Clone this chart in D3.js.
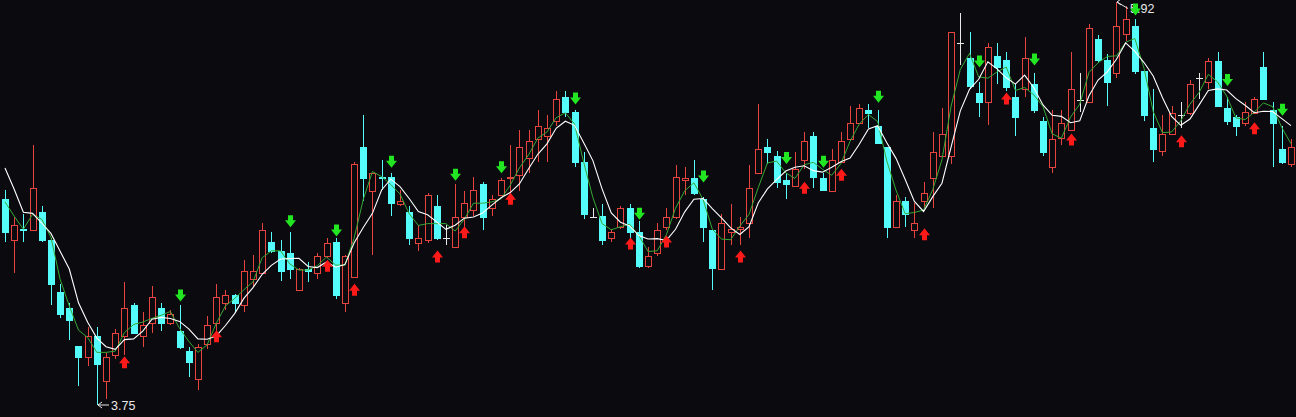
<!DOCTYPE html>
<html>
<head>
<meta charset="utf-8">
<script src="https://cdn.jsdelivr.net/npm/d3@7/dist/d3.min.js"></script>
<style>
  html, body { margin: 0; padding: 0; background: #0b0a0f; overflow: hidden; }
  svg { display: block; }
</style>
</head>
<body>
<svg id="chart" width="1296" height="417"></svg>
<script>
// ---- data ----
const open = [
4.86,4.64,4.70,4.69,4.79,4.64,4.36,4.27,4.07,4.01,
4.12,3.88,4.02,4.12,4.29,4.12,4.19,4.27,4.19,4.15,
4.04,3.89,4.08,4.19,4.30,4.34,4.29,4.43,4.46,4.63,
4.58,4.57,4.37,4.48,4.46,4.55,4.63,4.30,4.44,5.14,
4.90,4.98,4.98,4.83,4.79,4.62,4.64,4.82,4.65,4.60,
4.76,4.80,4.94,4.81,4.88,4.97,4.99,5.08,5.18,5.20,
5.28,5.41,5.33,5.06,4.76,4.77,4.65,4.71,4.81,4.68,
4.50,4.57,4.71,4.76,4.96,4.97,4.86,4.69,4.48,4.68,
4.70,4.73,5.00,5.14,5.09,4.96,4.93,5.07,5.20,4.97,
4.90,5.06,5.18,5.27,5.34,5.25,5.14,4.71,4.85,4.69,
4.85,4.97,5.09,5.09,5.70,5.62,5.43,5.38,5.63,5.61,
5.41,5.45,5.48,5.28,5.03,5.19,5.23,5.39,5.38,5.72,
5.61,5.54,5.75,5.79,5.55,5.24,5.12,5.21,5.31,5.32,
5.51,5.49,5.60,5.35,5.30,5.27,5.32,5.57,5.34,5.13,
5.05];
const high = [
4.91,4.76,4.78,5.15,4.82,4.65,4.40,4.30,4.07,4.17,
4.17,4.03,4.16,4.41,4.30,4.25,4.39,4.30,4.26,4.29,
4.06,4.08,4.23,4.40,4.37,4.35,4.53,4.56,4.73,4.68,
4.64,4.68,4.49,4.52,4.57,4.65,4.65,4.56,5.06,5.31,
5.00,5.07,5.00,4.91,4.82,4.72,4.89,4.88,4.72,4.94,
4.90,4.98,4.95,4.88,4.97,5.15,5.23,5.23,5.34,5.31,
5.44,5.44,5.34,5.11,4.81,4.83,4.70,4.82,4.83,4.74,
4.60,4.73,4.81,5.04,5.03,5.07,4.87,4.69,4.78,4.83,
4.76,5.04,5.37,5.18,5.12,5.00,5.11,5.22,5.22,5.00,
5.13,5.22,5.36,5.37,5.37,5.34,5.14,4.88,4.87,4.84,
4.95,5.22,5.35,5.76,5.86,5.76,5.49,5.70,5.70,5.65,
5.48,5.73,5.54,5.30,5.34,5.34,5.65,5.54,5.80,5.74,
5.64,5.92,5.90,5.83,5.55,5.45,5.31,5.36,5.38,5.50,
5.54,5.62,5.65,5.41,5.31,5.38,5.41,5.65,5.38,5.25,
5.18];
const low = [
4.63,4.46,4.63,4.69,4.63,4.29,4.22,4.10,3.85,3.96,
3.75,3.78,4.00,4.02,4.13,4.06,4.14,4.15,4.18,4.05,
3.90,3.83,4.05,4.14,4.26,4.25,4.25,4.39,4.46,4.57,
4.42,4.43,4.37,4.41,4.43,4.54,4.32,4.25,4.44,4.85,
4.56,4.91,4.77,4.82,4.61,4.58,4.62,4.64,4.61,4.60,
4.71,4.77,4.69,4.77,4.88,4.86,4.90,5.00,5.06,5.06,
5.25,5.30,5.03,4.75,4.76,4.61,4.63,4.70,4.65,4.49,
4.49,4.55,4.69,4.75,4.88,4.88,4.63,4.37,4.48,4.61,
4.61,4.65,5.00,5.05,4.92,4.86,4.93,5.02,4.92,4.90,
4.90,5.06,5.18,5.27,5.24,5.16,4.65,4.71,4.71,4.65,
4.81,4.81,5.09,5.05,5.58,5.45,5.30,5.26,5.48,5.44,
5.20,5.41,5.32,5.09,5.00,5.15,5.23,5.33,5.38,5.59,
5.36,5.51,5.71,5.53,5.28,5.06,5.09,5.21,5.24,5.31,
5.40,5.45,5.36,5.26,5.20,5.25,5.32,5.40,5.03,5.05,
5.03];
const close = [
4.68,4.72,4.69,4.92,4.64,4.40,4.24,4.21,4.01,4.12,
3.97,4.01,4.14,4.27,4.14,4.18,4.33,4.19,4.24,4.06,
3.98,4.06,4.18,4.33,4.34,4.30,4.47,4.47,4.69,4.58,
4.47,4.48,4.48,4.47,4.55,4.62,4.34,4.55,5.05,4.97,
5.00,4.97,4.84,4.85,4.65,4.65,4.88,4.65,4.65,4.76,
4.84,4.91,4.76,4.86,4.96,4.98,5.14,5.17,5.25,5.24,
5.40,5.33,5.06,4.78,4.76,4.64,4.68,4.81,4.68,4.50,
4.55,4.69,4.76,4.98,4.97,4.89,4.71,4.49,4.73,4.70,
4.71,4.92,5.13,5.11,4.95,4.94,5.02,5.17,4.98,4.91,
5.07,5.17,5.27,5.35,5.32,5.16,4.71,4.85,4.78,4.73,
4.89,5.11,5.21,5.76,5.70,5.47,5.38,5.68,5.57,5.46,
5.30,5.62,5.34,5.11,5.18,5.27,5.45,5.39,5.78,5.61,
5.49,5.79,5.83,5.55,5.31,5.13,5.21,5.32,5.31,5.48,
5.51,5.60,5.36,5.28,5.25,5.33,5.40,5.40,5.27,5.06,
5.14];
// closes of the sessions just before the visible window (feed the averages)
const priorCloses = [5.29, 5.31, 4.95, 4.90];

// signal markers: candle index and price level of the arrow
const sellIdx   = [19, 31, 36, 42, 49, 54, 62, 69, 76, 85, 89, 95, 106, 112, 123, 133, 139];
const sellLevel = [4.34,4.74,4.69,5.06,4.99,5.03,5.40,4.78,4.98,5.08,5.06,5.41,5.60,5.61,5.88,5.50,5.34];
const buyIdx    = [13, 23, 35, 38, 47, 50, 55, 68, 72, 80, 87, 91, 100, 109, 116, 128, 136];
const buyLevel  = [3.98,4.12,4.50,4.37,4.55,4.68,4.86,4.62,4.63,4.55,4.92,4.99,4.67,5.40,5.18,5.17,5.24];

const maShort = 3, maLong = 5;

// ---- build ----
const W = 1296, H = 417;
const n = close.length;
const idx = d3.range(n);
const svg = d3.select("#chart");
svg.append("rect").attr("width", W).attr("height", H).attr("fill", "#0b0a0f");

const x = d3.scaleLinear().domain([0, n - 1]).range([5, 1291]);
const y = d3.scaleLinear().domain([d3.min(low), d3.max(high)]).range([405, 2]);

const UP = "#e8443f", DOWN = "#54fcfc", FLAT = "#e8e8e8";
const bodyW = 7;

const g = svg.append("g").attr("shape-rendering", "crispEdges");

idx.forEach(i => {
  const cx = Math.round(x(i));
  const o = open[i], c = close[i];
  const yh = Math.round(y(high[i])), yl = Math.round(y(low[i]));
  const yo = Math.round(y(o)), yc = Math.round(y(c));
  const left = cx - 3;
  if (c > o) {
    const top = yc, bot = yo;
    if (yh < top) g.append("line").attr("x1", cx + 0.5).attr("x2", cx + 0.5).attr("y1", yh).attr("y2", top).attr("stroke", UP);
    if (yl > bot) g.append("line").attr("x1", cx + 0.5).attr("x2", cx + 0.5).attr("y1", bot).attr("y2", yl).attr("stroke", UP);
    g.append("rect").attr("x", left + 0.5).attr("y", top + 0.5)
      .attr("width", bodyW - 1).attr("height", Math.max(1, bot - top))
      .attr("fill", "#0b0a0f").attr("stroke", UP).attr("stroke-width", 1);
  } else if (c < o) {
    const top = yo, bot = yc;
    g.append("line").attr("x1", cx + 0.5).attr("x2", cx + 0.5).attr("y1", yh).attr("y2", yl).attr("stroke", DOWN);
    g.append("rect").attr("x", left).attr("y", top)
      .attr("width", bodyW).attr("height", Math.max(1, bot - top + 1))
      .attr("fill", DOWN);
  } else {
    g.append("line").attr("x1", cx + 0.5).attr("x2", cx + 0.5).attr("y1", yh).attr("y2", yl).attr("stroke", FLAT);
    g.append("line").attr("x1", left).attr("x2", left + bodyW).attr("y1", yo + 0.5).attr("y2", yo + 0.5).attr("stroke", FLAT);
  }
});

// moving averages of the close
const allClose = priorCloses.concat(close);
const off = priorCloses.length;
function ma(p) {
  return idx.map(i => d3.mean(allClose.slice(i + off - p + 1, i + off + 1)));
}
const maS = ma(maShort), maL = ma(maLong);
const line = d3.line().x((d, i) => x(i)).y(d => y(d));
svg.append("path").attr("d", line(maS)).attr("fill", "none").attr("stroke", "#35a835").attr("stroke-width", 1);
svg.append("path").attr("d", line(maL)).attr("fill", "none").attr("stroke", "#ffffff").attr("stroke-width", 1.1);

// extreme labels (drawn below the signal arrows)
function extremeLabel(i, price) {
  const tx = Math.round(x(i)) + 1;
  const ty = y(price);
  const ly = Math.min(Math.max(ty, 8.5), 406.5);
  const lab = svg.append("g").attr("fill", "none").attr("stroke", "#e8e8e8").attr("stroke-width", 1);
  lab.append("line").attr("x1", tx).attr("y1", ty).attr("x2", tx + 11).attr("y2", ly);
  lab.append("path").attr("d", `M${tx + 4},${ty - 3} L${tx},${ty} L${tx + 4},${ty + 3}`);
  svg.append("text").attr("x", tx + 13).attr("y", ly).attr("dy", "0.36em")
    .attr("fill", "#e8e8e8").attr("font-family", "Liberation Sans, Arial, sans-serif")
    .attr("font-size", 12.5).text(price.toFixed(2));
}
const iMax = d3.maxIndex(high), iMin = d3.minIndex(low);
extremeLabel(iMax, high[iMax]);
extremeLabel(iMin, low[iMin]);

// arrows
function sellArrow(cx, cy) {
  return `M${cx - 2.5},${cy - 6} L${cx + 2.5},${cy - 6} L${cx + 2.5},${cy - 1} L${cx + 5.5},${cy - 1} L${cx},${cy + 6} L${cx - 5.5},${cy - 1} L${cx - 2.5},${cy - 1} Z`;
}
function buyArrow(cx, cy) {
  return `M${cx - 2.5},${cy + 6} L${cx + 2.5},${cy + 6} L${cx + 2.5},${cy + 1} L${cx + 5.5},${cy + 1} L${cx},${cy - 6} L${cx - 5.5},${cy + 1} L${cx - 2.5},${cy + 1} Z`;
}
const ag = svg.append("g");
sellIdx.forEach((k, j) => {
  ag.append("path").attr("d", sellArrow(Math.round(x(k)) + 0.5, y(sellLevel[j]))).attr("fill", "#22e622");
});
buyIdx.forEach((k, j) => {
  ag.append("path").attr("d", buyArrow(Math.round(x(k)) + 0.5, y(buyLevel[j]))).attr("fill", "#ff1a1a");
});
</script>
</body>
</html>
